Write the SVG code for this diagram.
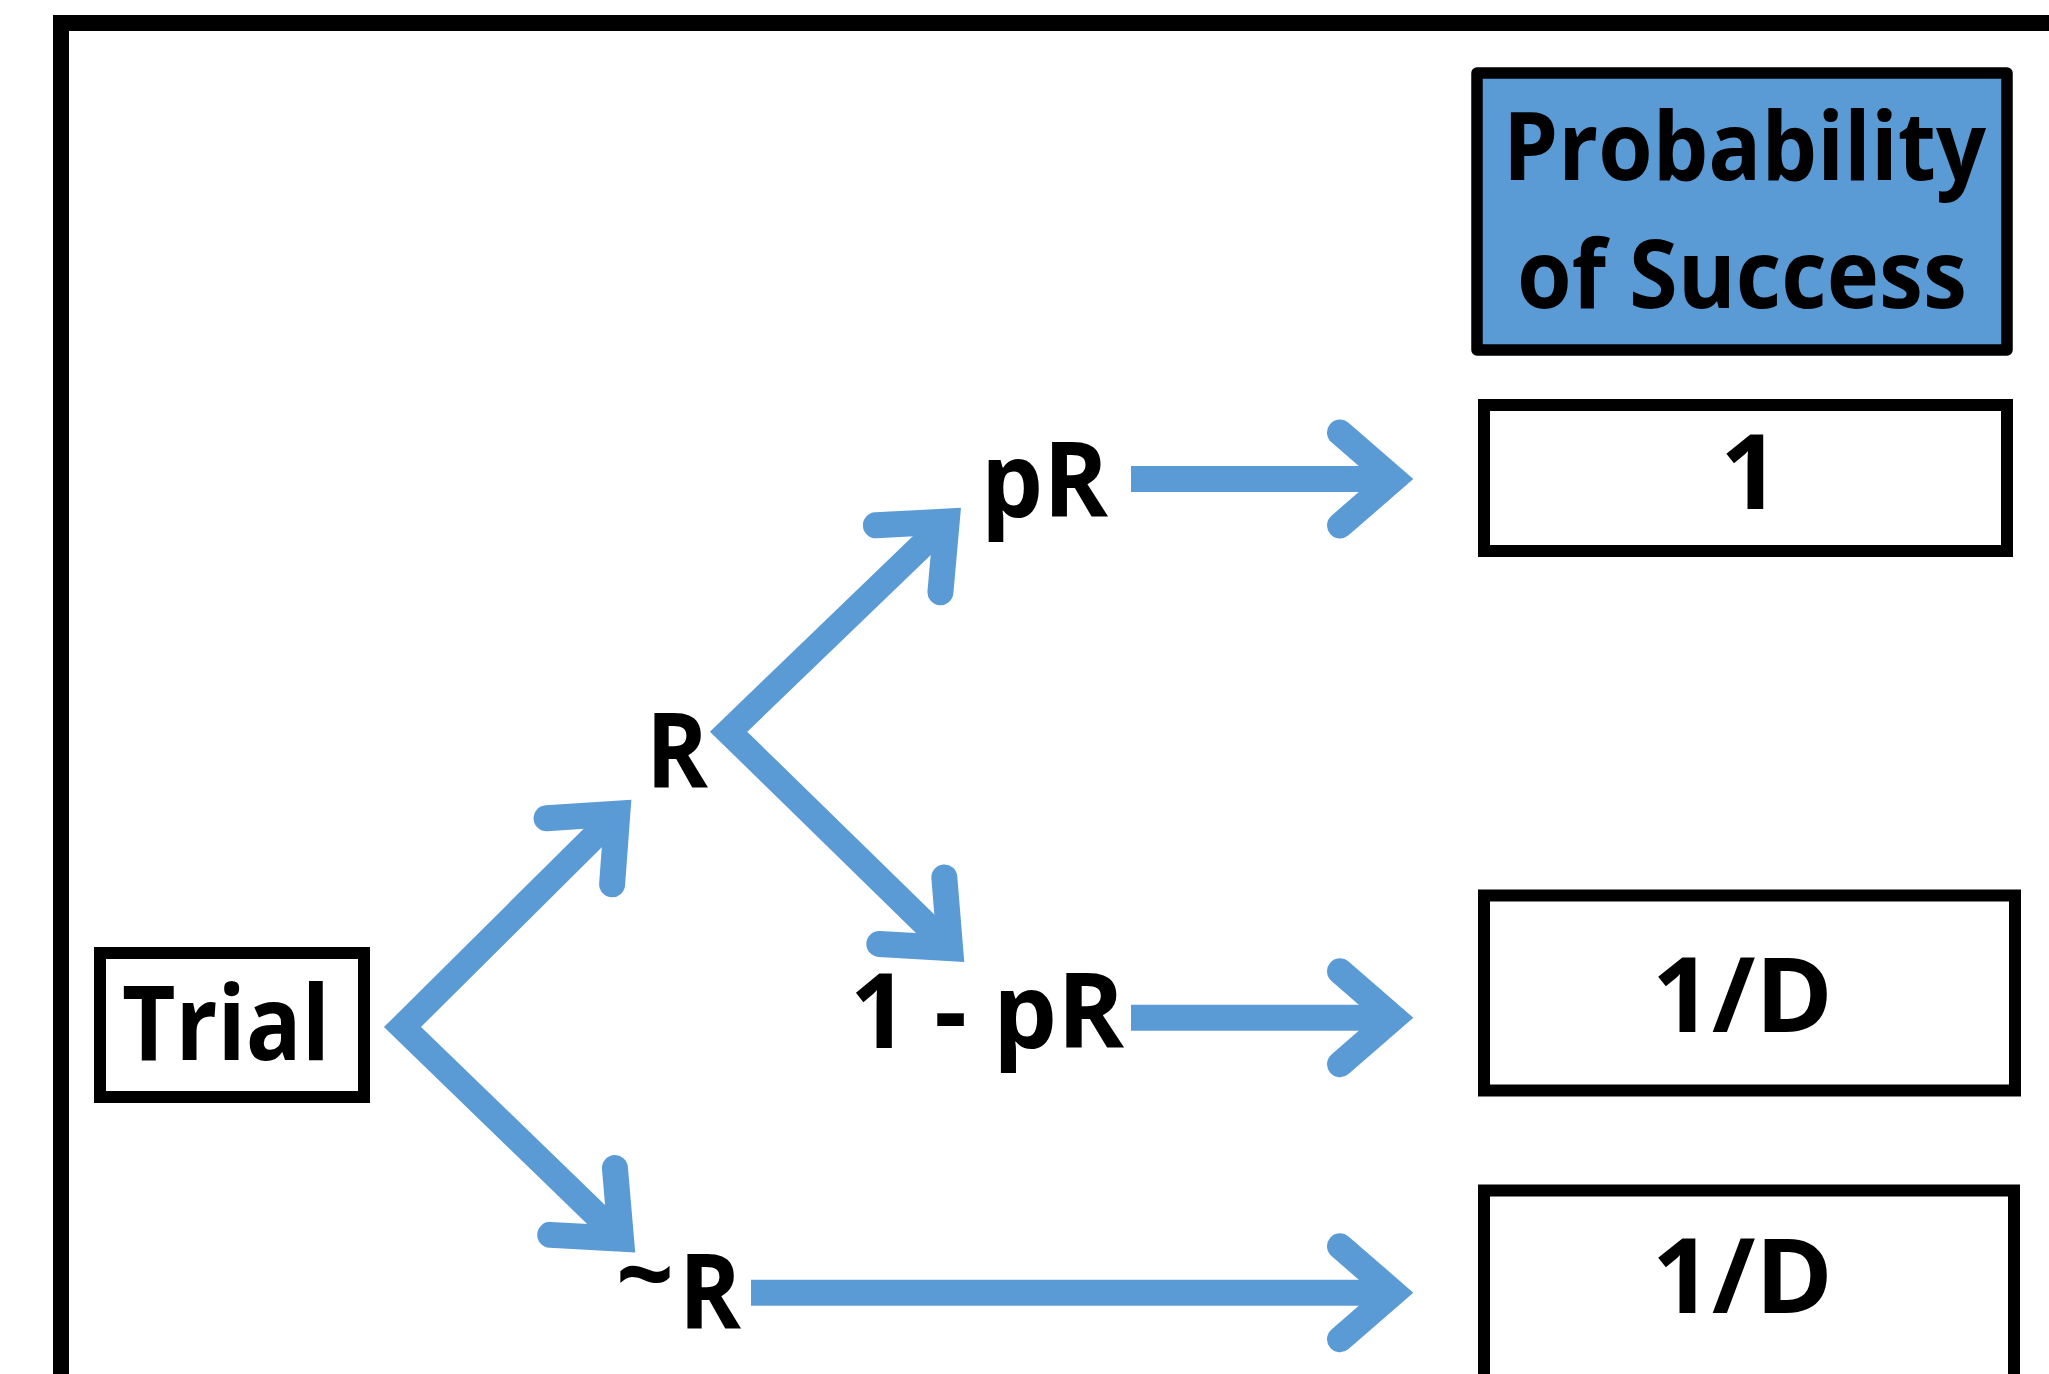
<svg xmlns="http://www.w3.org/2000/svg" width="2049" height="1374" viewBox="0 0 2049 1374">
<style>
  .box { fill: #FFFFFF; stroke: #000000; stroke-width: 12; }
  .head { fill: #5B9BD5; stroke: #000000; stroke-width: 11.5; stroke-linejoin: round; }
  .lbl { font-family: "Open Sans", "Liberation Sans", sans-serif; font-weight: 700; font-size: 104px; fill: #000000; }
  .hdr { font-size: 95px; }
  .conn { fill: none; stroke: #5B9BD5; stroke-width: 26; stroke-linecap: butt; stroke-linejoin: miter; marker-end: url(#ah); }
  .chev { marker-start: url(#ah); }
</style>
<defs>
  <marker id="ah" markerUnits="userSpaceOnUse" orient="auto-start-reverse" refX="0" refY="0" viewBox="-80 -80 120 160" markerWidth="120" markerHeight="160" overflow="visible">
    <path d="M -53.5,-46.5 L 0,0 L -53.5,46.5" fill="none" stroke="#5B9BD5" stroke-width="26" stroke-linecap="round" stroke-linejoin="miter"/>
  </marker>
</defs>
<rect x="0" y="0" width="2049" height="1374" fill="#FFFFFF"/>
<rect id="frame" x="61" y="23" width="2100" height="1500" fill="none" stroke="#000000" stroke-width="16"/>

<g id="connectors">
  <path class="conn chev" d="M 617.3,813.6 L 402.5,1027 L 621,1238.7"/>
  <path class="conn chev" d="M 946.7,521.6 L 728.6,731.7 L 950.1,948.1"/>
  <path class="conn" d="M 1131,479 L 1393.5,479"/>
  <path class="conn" d="M 1131,1017.7 L 1393.5,1017.7"/>
  <path class="conn" d="M 751,1292.7 L 1393.5,1292.7"/>
</g>

<g id="node-header">
  <rect class="head" x="1477" y="73" width="530" height="277"/>
  <text class="lbl hdr" x="1503" y="180" textLength="483" lengthAdjust="spacingAndGlyphs">Probability</text>
  <text class="lbl hdr" x="1517" y="308" textLength="450" lengthAdjust="spacingAndGlyphs">of Success</text>
</g>

<g id="node-trial">
  <rect class="box" x="100" y="953" width="264" height="144"/>
  <text class="lbl" x="122" y="1060" textLength="208" lengthAdjust="spacingAndGlyphs">Trial</text>
</g>

<g id="node-R">
  <text class="lbl" x="646" y="788" textLength="62" lengthAdjust="spacingAndGlyphs">R</text>
</g>

<g id="node-pR">
  <text class="lbl" x="981" y="517" textLength="127" lengthAdjust="spacingAndGlyphs">pR</text>
</g>

<g id="node-1-pR">
  <text class="lbl" x="850" y="1048" textLength="274" lengthAdjust="spacingAndGlyphs">1 - pR</text>
</g>

<g id="node-notR">
  <text class="lbl"><tspan x="616" y="1311" textLength="58" lengthAdjust="spacingAndGlyphs">~</tspan><tspan x="679" y="1329" textLength="62" lengthAdjust="spacingAndGlyphs">R</tspan></text>
</g>

<g id="node-p1">
  <rect class="box" x="1484" y="405" width="523" height="146"/>
  <text class="lbl" x="1750" y="509" text-anchor="middle">1</text>
</g>

<g id="node-p2">
  <rect class="box" x="1484" y="895.5" width="531" height="195"/>
  <text class="lbl" x="1652" y="1032" textLength="181" lengthAdjust="spacingAndGlyphs">1/D</text>
</g>

<g id="node-p3">
  <rect class="box" x="1484" y="1190.5" width="530" height="300"/>
  <text class="lbl" x="1652" y="1313" textLength="181" lengthAdjust="spacingAndGlyphs">1/D</text>
</g>
</svg>
